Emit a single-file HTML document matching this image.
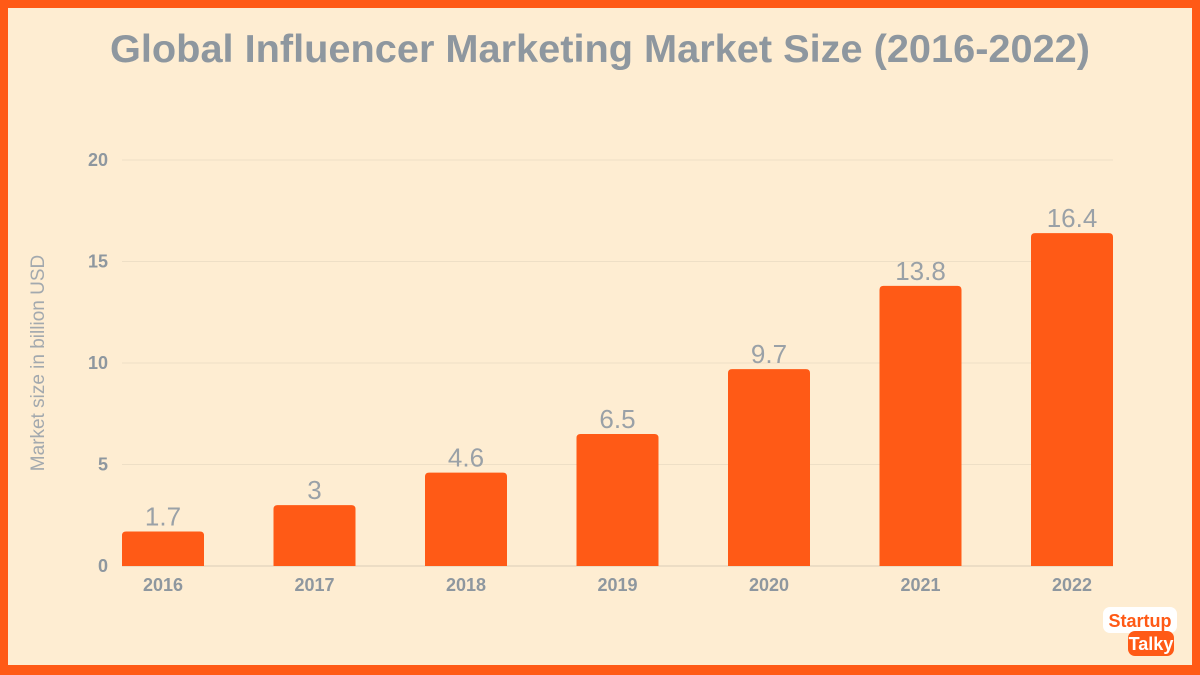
<!DOCTYPE html>
<html><head><meta charset="utf-8"><style>
html,body{margin:0;padding:0}
body{width:1200px;height:675px;background:#FF5A16;position:relative;overflow:hidden;font-family:"Liberation Sans",sans-serif}
#frame{position:absolute;left:8px;top:8px;width:1184px;height:657px;background:#FEEDD2}
</style></head><body>
<div id="frame"></div>
<svg id="chart" width="1200" height="675" style="position:absolute;left:0;top:0">
<text x="600" y="62" text-anchor="middle" font-size="39" font-weight="bold" fill="#8E979F" textLength="980" lengthAdjust="spacingAndGlyphs">Global Influencer Marketing Market Size (2016-2022)</text>
<text transform="translate(44,363) rotate(-90)" text-anchor="middle" font-size="19" fill="#A3A9AE">Market size  in billion USD</text>
<g id="grid"></g><g id="bars"></g>
<g>
<rect x="1103" y="607" width="74" height="26" rx="7" fill="#fff"/>
<text x="1140" y="627" text-anchor="middle" font-size="18" font-weight="bold" fill="#FF5A16">Startup</text>
<rect x="1128" y="631" width="46" height="25" rx="7" fill="#FF5A16"/>
<text x="1151" y="650" text-anchor="middle" font-size="18" font-weight="bold" fill="#fff">Talky</text>
</g>
</svg>
<script>
const categories=["2016","2017","2018","2019","2020","2021","2022"];
const values=[1.7,3,4.6,6.5,9.7,13.8,16.4];
const yTicks=[0,5,10,15,20];
const ns="http://www.w3.org/2000/svg";
const y=v=>566-v*(406/20);
const x=i=>163+i*151.5;
const grid=document.getElementById('grid'),bars=document.getElementById('bars');
function mk(tag,attrs,parent,text){const e=document.createElementNS(ns,tag);for(const k in attrs)e.setAttribute(k,attrs[k]);if(text!==undefined)e.textContent=text;parent.appendChild(e);return e;}
yTicks.forEach(t=>{
 const l=mk('line',{x1:122,x2:1113,y1:y(t),y2:y(t),stroke:t===0?'#D9CDB8':'#EEDFC6','stroke-width':1},grid);
 
 
 const tx=mk('text',{x:108,y:y(t)+6,'text-anchor':'end','font-size':18,'font-weight':'bold',fill:'#8E979F'},grid,String(t));
 
 
});
categories.forEach((c,i)=>{
 const v=values[i],cx=x(i);
 const r=mk('path',{d:`M${cx-41},${y(0)} V${y(v)+4} Q${cx-41},${y(v)} ${cx-37},${y(v)} H${cx+37} Q${cx+41},${y(v)} ${cx+41},${y(v)+4} V${y(0)} Z`,fill:'#FF5A16'},bars);
 
 
 const vl=mk('text',{x:cx,y:y(v)-6,'text-anchor':'middle','font-size':26,fill:'#9AA1A7'},bars,String(v));
 
 
 const xl=mk('text',{x:cx,y:591,'text-anchor':'middle','font-size':18,'font-weight':'bold',fill:'#8E979F'},bars,c);
 
 
});
</script>
</body></html>
